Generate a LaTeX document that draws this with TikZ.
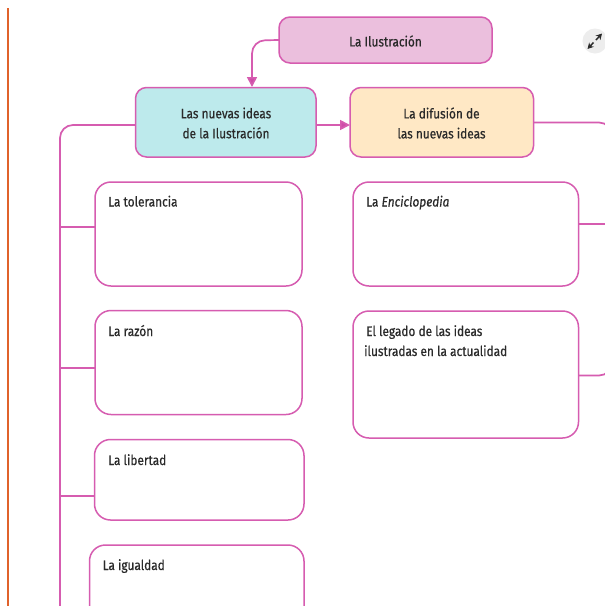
\documentclass[tikz,border=0pt]{standalone}
\usepackage{fontspec}
\setmainfont[FakeStretch=0.86,FakeBold=0.5]{Fira Sans}
\usetikzlibrary{arrows.meta}
\definecolor{mag}{HTML}{D65CB0}
\definecolor{magd}{HTML}{CF4BA8}
\definecolor{pinkf}{HTML}{EBBFDD}
\definecolor{bluef}{HTML}{BDEAEC}
\definecolor{orgf}{HTML}{FFE8C5}
\definecolor{redl}{HTML}{E0622B}
\definecolor{ink}{HTML}{2A2A2A}
\tikzset{
 x=1pt,y=-1pt,
 boxbase/.style={draw=mag,line width=1.5pt,rounded corners=16pt,inner sep=0pt,outer sep=0pt,anchor=north west},
 headbox/.style={boxbase,rounded corners=11pt},
 conn/.style={draw=mag,line width=1.7pt,rounded corners=13pt},
 arr/.style={conn,-{Triangle[length=10pt,width=10pt,fill=magd]}},
 txt/.style={font=\fontsize{13.8pt}{20pt}\selectfont,text=ink,align=center,inner sep=0pt},
 lab/.style={font=\fontsize{13.8pt}{20pt}\selectfont,text=ink,align=left,inner sep=0pt,anchor=base west},
}
\newcommand{\bx}[6]{\node[#2,minimum width=#5pt-#3pt,minimum height=#6pt-#4pt] (#1) at (#3,#4) {};}
\begin{document}
\begin{tikzpicture}
\useasboundingbox (0,0) rectangle (605,606);
\clip (0,0) rectangle (605,606);
\fill[white] (0,0) rectangle (605,606);
\fill[redl] (7,8) rectangle (9,606);
% boxes
\bx{il}{headbox,fill=pinkf}{279}{17}{492}{63}
\bx{nu}{headbox,fill=bluef}{135.5}{87.5}{316}{157}
\bx{di}{headbox,fill=orgf}{350}{87.5}{533.5}{157}
\bx{to}{boxbase}{95}{182}{302}{286}
\bx{ra}{boxbase}{95}{310.5}{302}{414.5}
\bx{li}{boxbase}{94.5}{439.5}{304}{520}
\bx{ig}{boxbase}{89.5}{545}{304}{660}
\bx{en}{boxbase}{353}{182}{578.5}{286}
\bx{le}{boxbase}{353}{311}{578.5}{438}
% connector ends
\coordinate (sp) at (60,606);
\coordinate (r1) at (612,122.5);
\coordinate (r1b) at (612,140);
\coordinate (r2) at (605,224);
\coordinate (r3) at (612,360);
% connectors
\draw[arr] (il.west) -- (252,40.5) -- (252,87);
\draw[arr] (nu.east |- 0,125) -- (di.west |- 0,125);
\draw[conn] (nu.west |- 0,125) -- (60,125) -- (sp);
\draw[conn,rounded corners=0pt] (60,227) -- (to.west |- 0,227);
\draw[conn,rounded corners=0pt] (60,368) -- (ra.west |- 0,368);
\draw[conn,rounded corners=0pt] (60,496) -- (li.west |- 0,496);
\draw[conn] (di.east |- 0,122.5) -- (r1) -- (r1b);
\draw[conn,rounded corners=0pt] (en.east |- 0,224) -- (r2);
\draw[conn] (le.east |- 0,375.5) -- (612,375.5) -- (r3);
% texts
\node[txt] (tIl) at (385.5,41) {La Ilustración};
\node[txt] (tNu) at (226,123) {Las nuevas ideas\\de la Ilustración};
\node[txt] (tDi) at (441.5,123) {La difusión de\\las nuevas ideas};
\node[lab] (tTo) at (108,206.5) {La tolerancia};
\node[lab] (tRa) at (108,336) {La razón};
\node[lab] (tLi) at (108,465) {La libertad};
\node[lab] (tIg) at (102.5,570) {La igualdad};
\node[lab] (tEn) at (366,206.5) {La \textit{Enciclopedia}};
\node[lab] (tLe) at (364,356) {\hspace{2pt}El legado de las ideas\\ilustradas en la actualidad};
% expand icon
\fill[black!7] (595,41) circle (12.5);
\draw[ink,line width=1.5pt,-{Stealth[length=6pt,width=6.5pt]}] (596,40) -- (602,33.5);
\draw[ink,line width=1.5pt,-{Stealth[length=6pt,width=6.5pt]}] (593.5,42.5) -- (587.5,49);
\end{tikzpicture}
\end{document}
